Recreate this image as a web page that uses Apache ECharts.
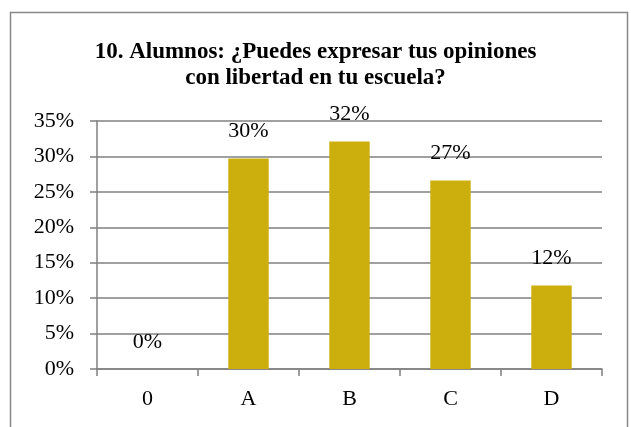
<!DOCTYPE html>
<html>
<head>
<meta charset="utf-8">
<script src="https://cdn.jsdelivr.net/npm/echarts@6/dist/echarts.min.js"></script>
<style>
html, body { margin: 0; padding: 0; background: #fff; }
#chart { width: 631px; height: 427px; }
</style>
</head>
<body>
<div id="chart"></div>
<script>
var categories = ['0', 'A', 'B', 'C', 'D'];
var percentValues = [0, 29.7, 32.1, 26.6, 11.8];
var yTicks = [0, 5, 10, 15, 20, 25, 30, 35];
var chartTitle = '10. Alumnos: ¿Puedes expresar tus opiniones\ncon libertad en tu escuela?';

var chart = echarts.init(document.getElementById('chart'));

var option = {
	animation: false,
	backgroundColor: '#fff',
	title: {
		text: chartTitle,
		left: 'center',
		top: 34,
		textStyle: {
			fontFamily: 'Liberation Serif',
			fontWeight: 'bold',
			fontSize: 23,
			lineHeight: 26,
			color: '#000'
		}
	},
	graphic: [{
		type: 'rect',
		shape: { x: 10.5, y: 12.5, width: 617, height: 440 },
		style: { fill: 'none', stroke: '#878787', lineWidth: 1.5 },
		silent: true
	}],
	grid: {
		left: 97,
		right: 29,
		top: 121,
		bottom: 58
	},
	xAxis: {
		type: 'category',
		data: categories,
		axisLine: { lineStyle: { color: '#808080', width: 1.5 } },
		axisTick: { show: true, length: 7, lineStyle: { color: '#808080', width: 1.5 } },
		axisLabel: {
			margin: 19,
			fontFamily: 'Liberation Serif',
			fontSize: 22,
			color: '#000'
		}
	},
	yAxis: {
		type: 'value',
		min: yTicks[0],
		max: yTicks[yTicks.length - 1],
		interval: 5,
		axisLine: { show: true, lineStyle: { color: '#808080', width: 1.5 } },
		axisTick: { show: true, length: 7, lineStyle: { color: '#808080', width: 1.5 } },
		splitLine: { lineStyle: { color: '#808080', width: 1.5 } },
		axisLabel: {
			margin: 23,
			fontFamily: 'Liberation Serif',
			fontSize: 22,
			color: '#000',
			formatter: '{value}%'
		}
	},
	series: [{
		type: 'bar',
		data: percentValues,
		barWidth: '40%',
		itemStyle: { color: '#CCAE0C' },
		label: {
			show: true,
			position: 'top',
			distance: 16,
			fontFamily: 'Liberation Serif',
			fontSize: 22,
			color: '#000',
			formatter: function (p) {
				return Math.round(p.value) + '%';
			}
		}
	}]
};

chart.setOption(option);
</script>
</body>
</html>
